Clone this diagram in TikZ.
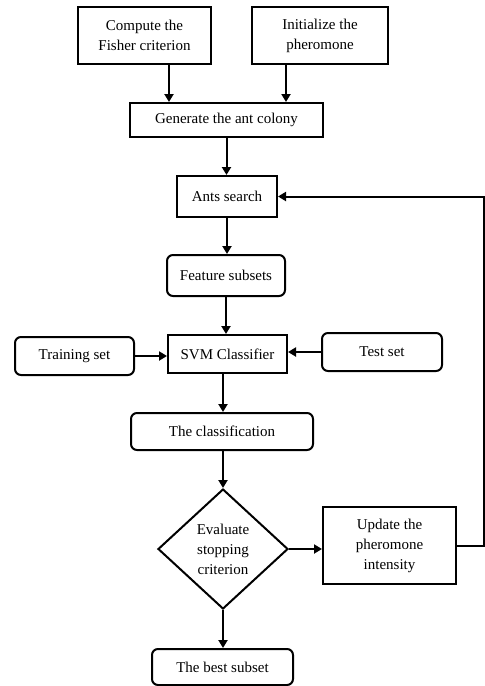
\documentclass[tikz,border=0pt]{standalone}
\usepackage{fontspec}
\setmainfont{Liberation Serif}
\usetikzlibrary{shapes.geometric,arrows.meta,calc}
\begin{document}
\begin{tikzpicture}[x=1pt,y=-1pt,
  every node/.style={font=\fontsize{15}{20}\selectfont, align=center, inner sep=0pt},
  sq/.style={draw, line width=2pt, rectangle},
  rnd/.style={draw, line width=2pt, rectangle, rounded corners=6pt},
  dia/.style={draw, line width=2pt, diamond},
  arr/.style={line width=2pt, -{Triangle[length=8pt,width=9pt]}}]
\useasboundingbox (0,0) rectangle (485,686);
\node[sq, minimum width=133, minimum height=57] (compute) at (144.5,35.5) {Compute the\\Fisher criterion};
\node[sq, minimum width=136, minimum height=57] (init) at (320,35.5) {Initialize the\\pheromone};
\node[sq, minimum width=193, minimum height=34] (gen) at (226.5,120) {Generate the ant colony};
\node[sq, minimum width=100, minimum height=41] (ants) at (227,196.5) {Ants search};
\node[rnd, minimum width=118, minimum height=41] (feat) at (226,275.5) {Feature subsets};
\node[sq, minimum width=119, minimum height=38] (svm) at (227.5,354) {SVM Classifier};
\node[rnd, minimum width=119, minimum height=38] (train) at (74.5,356) {Training set};
\node[rnd, minimum width=120, minimum height=38] (test) at (382,352) {Test set};
\node[rnd, minimum width=182, minimum height=37] (cls) at (222,431.5) {The classification};
\node[dia, minimum width=130, minimum height=120] (eval) at (223,549) {Evaluate\\stopping\\criterion};
\node[sq, minimum width=133, minimum height=77] (upd) at (389.5,545.5) {Update the\\pheromone\\intensity};
\node[rnd, minimum width=141, minimum height=36] (best) at (222.5,667) {The best subset};
\coordinate (fb) at (484,0);
\draw[arr] ([xshift=24.5pt]compute.south) -- ([xshift=24.5pt]compute.south |- gen.north);
\draw[arr] ([xshift=-34pt]init.south) -- ([xshift=-34pt]init.south |- gen.north);
\draw[arr] (gen.south) -- (gen.south |- ants.north);
\draw[arr] (ants.south) -- (ants.south |- feat.north);
\draw[arr] (feat.south) -- (feat.south |- svm.north);
\draw[arr] (train.east) -- (train.east -| svm.west);
\draw[arr] (test.west) -- (test.west -| svm.east);
\draw[arr] ([xshift=-4.5pt]svm.south) -- ([xshift=-4.5pt]svm.south |- cls.north);
\draw[arr] ([xshift=1pt]cls.south) -- (eval.north);
\draw[arr] (eval.east) -- (eval.east -| upd.west);
\draw[arr] (eval.south) -- (eval.south |- best.north);
\draw[arr] (upd.east) -- (upd.east -| fb) -- (fb |- ants.east) -- (ants.east);
\end{tikzpicture}
\end{document}
